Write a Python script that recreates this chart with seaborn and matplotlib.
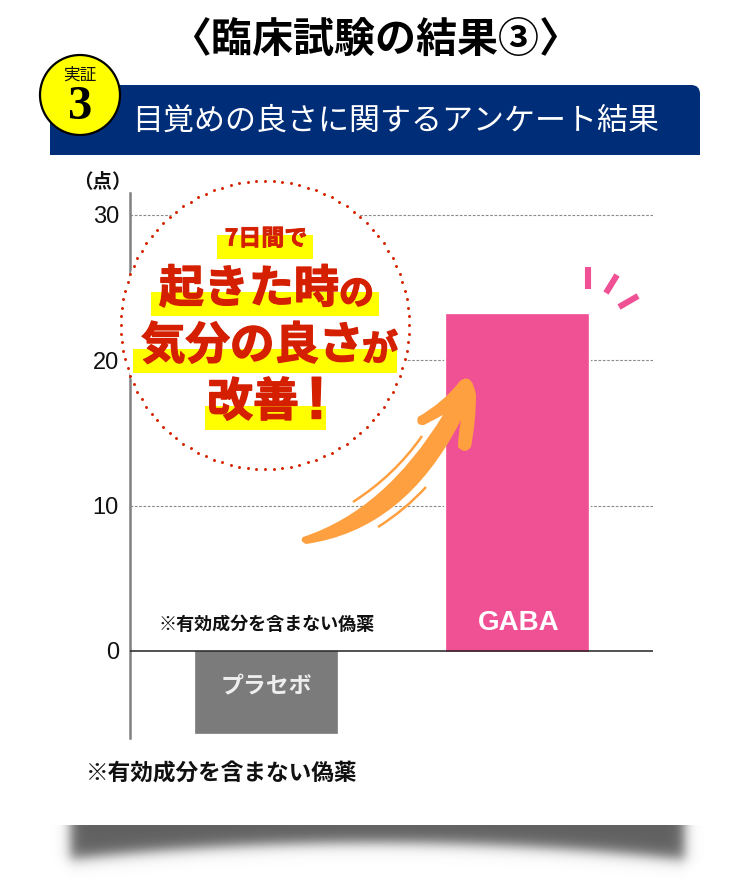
import numpy as np
import matplotlib
matplotlib.use('Agg')
import matplotlib.pyplot as plt
import matplotlib.patheffects as pe
from matplotlib.patches import Circle, FancyBboxPatch, PathPatch, Rectangle
from matplotlib.path import Path
import seaborn as sns

# datos del grafico
categorias = ['プラセボ', 'GABA']
valores = [-5.65, 23.2]
colores = ['#7b7b7b', '#f05195']
ticks_y = [0, 10, 20, 30]
titulo = '〈臨床試験の結果③〉'
subtitulo = '目覚めの良さに関するアンケート結果'
nota = '※有効成分を含まない偽薬'

sns.set_theme(style='white')
plt.rcParams['font.family'] = ['Noto Sans CJK JP', 'DejaVu Sans']

W, H = 750, 880
fig = plt.figure(figsize=(W / 100, H / 100), dpi=100, facecolor='white')

# 1) el grafico de barras, posicion en pixeles
ax = fig.add_axes([130 / W, 1 - 738 / H, 523 / W, 545 / H])
sns.barplot(x=categorias, y=valores, hue=categorias, palette=colores, legend=False,
            width=0.566, saturation=1, ax=ax, zorder=3)
for b, c in zip(ax.patches, colores):
    b.set_edgecolor(c)
    b.set_linewidth(0.5)
    b.set_path_effects([pe.withStroke(linewidth=3.5, foreground='white')])
ax.set_xlim(-0.542, 1.542)
ax.set_ylim(-5.99, 31.5)
ax.set_yticks(ticks_y)
ax.set_xticks([])
ax.set_xlabel('')
ax.set_yticklabels([str(t) for t in ticks_y], fontfamily='Liberation Sans', fontsize=17, color='#111111')
ax.tick_params(axis='y', length=0, pad=8)
for t in ticks_y[1:]:
    ax.axhline(t, color='#8a8a8a', lw=0.8, ls=(0, (2.4, 1.5)), zorder=1)
ax.axhline(0, color='#222222', lw=1.1, zorder=4)
for lado in ['top', 'right', 'bottom']:
    ax.spines[lado].set_visible(False)
ax.spines['left'].set_color('#808080')
ax.spines['left'].set_linewidth(1.8)
ax.patch.set_alpha(0)

ax.text(1.005, 1.95, 'GABA', color='white', ha='center', va='center', fontsize=20,
        fontweight='bold', fontfamily='Liberation Sans', zorder=5)
ax.text(0, -2.5, categorias[0], color='#eeeeee', ha='center', va='center', fontsize=16.5,
        fontweight='bold', zorder=5)

# 2) capa de decoracion en pixeles
ov = fig.add_axes([0, 0, 1, 1], zorder=5)
ov.set_xlim(0, W)
ov.set_ylim(H, 0)
ov.axis('off')
ov.patch.set_alpha(0)

# sombra de abajo
xx, yy = np.meshgrid(np.arange(40, 712), np.arange(825, 880))
borde = 842 + 17 * ((xx - 375) / 310) ** 2
a_y = 1 / (1 + np.exp((yy - borde) / 4.0))
a_x = 1 / (1 + np.exp((70 - xx) / 3.6)) * 1 / (1 + np.exp((xx - 684) / 3.6))
sombra = np.zeros(xx.shape + (4,))
sombra[..., :3] = 0.38
sombra[..., 3] = a_x * a_y
ov.imshow(sombra, extent=(40, 712, 880, 825), aspect='auto', interpolation='bilinear', zorder=1)
ov.set_xlim(0, W)
ov.set_ylim(H, 0)

# titulo y banda azul
ov.text(375, 40, titulo, ha='center', va='center', fontsize=29.5, fontweight='bold', color='black')
ov.add_patch(FancyBboxPatch((50, 85), 650, 70, boxstyle='round,pad=0,rounding_size=9',
                            fc='#002d78', ec='none', zorder=2))
ov.add_patch(Rectangle((50, 110), 650, 45, fc='#002d78', ec='none', zorder=2))
ov.add_patch(Rectangle((50, 85), 60, 30, fc='#002d78', ec='none', zorder=2))
ov.text(396, 121, subtitulo, ha='center', va='center', fontsize=22.3, color='white', zorder=3)

ov.add_patch(Circle((80, 95), 40, fc='#ffff00', ec='black', lw=1.6, zorder=4))
ov.text(80, 75, '実証', ha='center', va='center', fontsize=12, color='#111111', zorder=5)
ov.text(80, 107, '3', ha='center', va='center', fontsize=35, fontweight='bold',
        fontfamily='Liberation Serif', color='black', zorder=5)

ov.text(102, 182, '（点）', ha='center', va='center', fontsize=14, fontweight='bold', color='#111111')
ov.text(267, 624, nota, ha='center', va='center', fontsize=13, fontweight='bold', color='#111111')
ov.text(222, 774, nota, ha='center', va='center', fontsize=16.3, fontweight='bold', color='#111111')

# circulo punteado con el texto
rojo = '#d42000'
ov.add_patch(Circle((265, 325), 144, fc='white', ec='none', zorder=2))
ang = np.linspace(0, 2 * np.pi, 104, endpoint=False)
ov.scatter(265 + 144 * np.cos(ang), 325 + 144 * np.sin(ang), s=4.5, color=rojo, linewidths=0, zorder=3)
for x0, y0, x1, y1 in [(217, 235, 313, 259), (151, 292, 379, 316), (133, 349, 397, 373), (205, 406, 326, 430)]:
    ov.add_patch(Rectangle((x0, y0), x1 - x0, y1 - y0, fc='#ffff00', ec='none', zorder=3))

def rotulo(x, y, s, px, ha='left', grueso=1.0, **kw):
    # el texto original es mas grueso que el bold, le agrego un trazo
    ov.text(x, y, s, ha=ha, va='center', fontsize=px * 0.72, fontweight='bold', color=rojo, zorder=4,
            path_effects=[pe.withStroke(linewidth=grueso, foreground=rojo)], **kw)

rotulo(266, 239, '7日間で', 23, ha='center', grueso=0.6)
rotulo(159, 289.5, '起きた時', 45)
rotulo(339, 294, 'の', 35)
rotulo(141, 346, '気分の良さ', 44.5)
rotulo(362, 350, 'が', 36)
rotulo(207, 402, '改善', 46)
rotulo(316.5, 403, '!', 60, ha='center', grueso=1.0, fontfamily='Liberation Sans')

# flecha naranja
naranja = '#ffa040'
cuerpo = [
    (Path.MOVETO, (303, 537)),
    (Path.CURVE3, (385, 510)), (Path.CURVE3, (443, 415)),
    (Path.LINETO, (424, 425)),
    (Path.CURVE3, (415, 426)), (Path.CURVE3, (418, 417)),
    (Path.CURVE3, (444, 402)), (Path.CURVE3, (460, 381)),
    (Path.CURVE3, (472, 372)), (Path.CURVE3, (476, 395)),
    (Path.CURVE3, (476, 420)), (Path.CURVE3, (471, 447)),
    (Path.CURVE3, (465, 455)), (Path.CURVE3, (458, 447)),
    (Path.CURVE3, (458, 436)), (Path.CURVE3, (461, 420)),
    (Path.CURVE3, (405, 530)), (Path.CURVE3, (306, 544)),
    (Path.CURVE3, (299, 541)), (Path.CURVE3, (303, 537)),
    (Path.CLOSEPOLY, (303, 537)),
]
cods, pts = zip(*cuerpo)
ov.add_patch(PathPatch(Path(pts, cods), fc=naranja, ec='none', zorder=4))
for (x0, y0), (xc, yc), (x1, y1) in [((353, 502), (395, 475), (422, 436)), ((378, 527), (405, 510), (426, 487))]:
    ov.add_patch(PathPatch(Path([(x0, y0), (xc, yc), (x1, y1)], [Path.MOVETO, Path.CURVE3, Path.CURVE3]),
                           fc='none', ec=naranja, lw=1.8, zorder=4))

# rayitas rosas
for (x0, y0), (x1, y1) in [((588, 267), (588, 289)), ((617, 275), (606, 293)), ((638, 296), (619, 307))]:
    ov.plot([x0, x1], [y0, y1], color=colores[1], lw=4.4, solid_capstyle='butt', zorder=4)

fig.savefig('out.png', dpi=100)
